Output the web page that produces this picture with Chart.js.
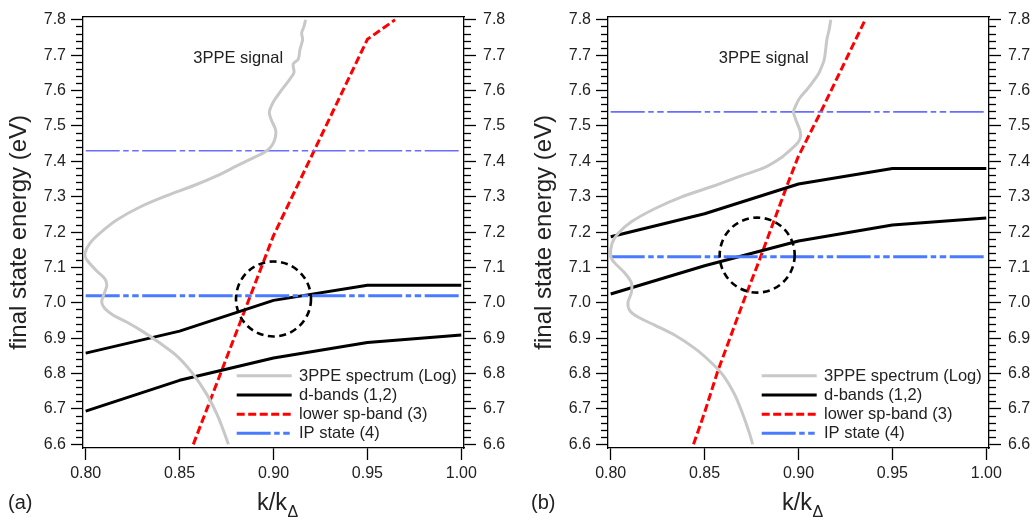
<!DOCTYPE html>
<html><head><meta charset="utf-8">
<script src="https://cdn.jsdelivr.net/npm/chart.js@4.4.1/dist/chart.umd.min.js"></script>
<style>
html,body{margin:0;padding:0;background:#fff;}
#wrap{position:relative;width:1034px;height:520px;overflow:hidden;background:#fff;}
canvas{position:absolute;top:0;}
</style></head><body>
<div id="wrap">
<canvas id="ca" width="509" height="520" style="left:0px"></canvas>
<canvas id="cb" width="509" height="520" style="left:525px"></canvas>
</div>
<script>
// ---------- shared axis ticks ----------
const xTicks = [0.80, 0.85, 0.90, 0.95, 1.00];
const yTicks = [6.6, 6.7, 6.8, 6.9, 7.0, 7.1, 7.2, 7.3, 7.4, 7.5, 7.6, 7.7, 7.8];
const legendLabels = ['3PPE spectrum (Log)', 'd-bands (1,2)', 'lower sp-band (3)', 'IP state (4)'];
const yTitle = 'final state energy (eV)';
const xTitleMain = 'k/k';
const xTitleSub = '\u0394';
const signalLabel = '3PPE signal';
const panelLabels = ['(a)', '(b)'];

// ---------- panel (a) ----------
const aSpecY = [7.800,7.781,7.763,7.744,7.716,7.689,7.675,7.651,7.633,7.614,7.596,7.568,7.540,7.522,7.494,7.480,7.456,7.438,7.424,7.410,7.387,7.359,7.331,7.303,7.271,7.234,7.197,7.169,7.140,7.122,7.090,7.067,7.048,7.020,7.002,6.983,6.965,6.946,6.918,6.890,6.850,6.798,6.742,6.686,6.640,6.600];
const aSpecX = [0.9171,0.9162,0.9150,0.9155,0.9141,0.9132,0.9105,0.9109,0.9088,0.9061,0.9035,0.8999,0.8978,0.8985,0.9008,0.9013,0.9003,0.8981,0.8946,0.8892,0.8804,0.8698,0.8573,0.8431,0.8289,0.8165,0.8076,0.8023,0.7996,0.8005,0.8059,0.8103,0.8112,0.8094,0.8085,0.8103,0.8147,0.8218,0.8307,0.8385,0.8485,0.8573,0.8644,0.8698,0.8733,0.8760];
const aBandX  = [0.80, 0.85, 0.90, 0.95, 1.00];
const aBand1Y = [6.858, 6.920, 7.007, 7.050, 7.050];
const aBand2Y = [6.694, 6.781, 6.844, 6.888, 6.909];
const aSpX = [0.8573, 0.900, 0.950, 0.9647];
const aSpY = [6.600, 7.190, 7.745, 7.800];
const aIpX = [0.80, 1.00];
const aIpLowY  = [7.02, 7.02];
const aIpHighY = [7.43, 7.43];
const aCircle = [0.900, 7.011];
const aLabelAt = [0.8812, 7.69];

// ---------- panel (b) ----------
const bSpecY = [7.800,7.772,7.744,7.688,7.651,7.637,7.605,7.577,7.558,7.540,7.517,7.485,7.466,7.452,7.434,7.410,7.382,7.359,7.331,7.299,7.266,7.229,7.196,7.168,7.131,7.113,7.085,7.057,7.029,7.001,6.979,6.960,6.937,6.909,6.872,6.835,6.798,6.742,6.686,6.631,6.600];
const bSpecX = [0.9172,0.9163,0.9151,0.9137,0.9110,0.9093,0.9048,0.9004,0.8986,0.8973,0.8986,0.9009,0.9009,0.8995,0.8960,0.8907,0.8818,0.8694,0.8552,0.8375,0.8234,0.8110,0.8039,0.8007,0.8000,0.8021,0.8074,0.8110,0.8110,0.8092,0.8101,0.8145,0.8234,0.8340,0.8446,0.8528,0.8595,0.8659,0.8703,0.8739,0.8756];
const bBandX  = [0.80, 0.85, 0.90, 0.95, 1.00];
const bBand1Y = [7.187, 7.252, 7.336, 7.380, 7.380];
const bBand2Y = [7.025, 7.105, 7.175, 7.220, 7.240];
const bSpX = [0.8441, 0.8500, 0.8570, 0.8712, 0.8790, 0.8942, 0.9000, 0.9119, 0.9355];
const bSpY = [6.600, 6.690, 6.807, 7.011, 7.118, 7.336, 7.415, 7.540, 7.800];
const bIpX = [0.80, 1.00];
const bIpLowY  = [7.13, 7.13];
const bIpHighY = [7.54, 7.54];
const bCircle = [0.878, 7.135];
const bLabelAt = [0.8815, 7.69];

// ---------- styling / layout ----------
const FONT = "'Liberation Sans', Arial, Helvetica, sans-serif";
const TXT = '#222';
const XMIN = 0.80 - 2.7/1878, XMAX = 1.00 + 2.7/1878;
const YMIN = 6.6 - 3.7/359.2, YMAX = 7.8 + 3.3/359.2;
const IPDASH = [34, 3.5, 5.5, 3.5, 6.5, 3.5];

function pts(xs, ys) { return xs.map((x, i) => ({x: x, y: ys[i]})); }
function minorOf(major) {
  const out = [];
  for (let i = 0; i < major.length - 1; i++)
    for (let k = 1; k < 5; k++) out.push(+(major[i] + k * (major[i+1] - major[i]) / 5).toFixed(4));
  return out;
}
const yMinorTicks = minorOf(yTicks);

function yAxis(pos, weight, width, ticksArr, len, labels, title) {
  return {
    type: 'linear', axis: 'y', position: pos, weight: weight, min: YMIN, max: YMAX,
    afterBuildTicks: s => { s.ticks = ticksArr.map(v => ({value: v})); },
    afterFit: s => { s.width = width; },
    ticks: { display: labels, font: {family: FONT, size: 16}, color: TXT, padding: pos === 'left' ? 5 : 7,
             callback: v => Number(v).toFixed(1) },
    grid: { drawOnChartArea: false, drawTicks: true, tickLength: len, tickWidth: 1.3, tickColor: '#000' },
    border: { display: labels, color: '#000', width: 1.3 },
    title: title ? { display: true, text: title, color: TXT, font: {family: FONT, size: 24}, padding: {top: 5, bottom: 0} } : {display: false}
  };
}

const overlay = {
  id: 'overlay',
  afterDatasetsDraw(chart, args, o) {
    const ctx = chart.ctx, xs = chart.scales.x, ys = chart.scales.y, ca = chart.chartArea;
    ctx.save();
    // dashed circle
    ctx.beginPath();
    ctx.setLineDash([7, 4.5]);
    ctx.lineWidth = 2.6;
    ctx.strokeStyle = '#000';
    ctx.arc(xs.getPixelForValue(o.circle[0]), ys.getPixelForValue(o.circle[1]), 37.5, 0, Math.PI * 2);
    ctx.stroke();
    ctx.setLineDash([]);
    // 3PPE signal label
    ctx.fillStyle = TXT;
    ctx.font = '16.5px ' + FONT;
    ctx.textAlign = 'center';
    ctx.textBaseline = 'middle';
    ctx.fillText(signalLabel, xs.getPixelForValue(o.label[0]), ys.getPixelForValue(o.label[1]));
    // legend
    const ds = chart.data.datasets;
    const items = [0, 3, 5, 2];
    const rows = [72.3, 53, 33.7, 14.7];
    items.forEach((di, i) => {
      const d = ds[di];
      const y = ca.bottom - rows[i];
      const x0 = ca.left + 153.7, x1 = ca.left + 208.7;
      ctx.beginPath();
      ctx.setLineDash(d.borderDash || []);
      ctx.lineWidth = d.borderWidth;
      ctx.strokeStyle = d.borderColor;
      ctx.moveTo(x0, y); ctx.lineTo(x1, y);
      ctx.stroke();
      ctx.setLineDash([]);
      ctx.fillStyle = TXT;
      ctx.font = '16.5px ' + FONT;
      ctx.textAlign = 'left';
      ctx.fillText(legendLabels[i], ca.left + 216, y + 0.5);
    });
    ctx.restore();
  },
  afterDraw(chart, args, o) {
    const ctx = chart.ctx, ca = chart.chartArea;
    ctx.save();
    ctx.fillStyle = TXT;
    ctx.textAlign = 'left';
    ctx.textBaseline = 'alphabetic';
    ctx.font = '23.5px ' + FONT;
    const x0 = ca.left + 174;
    ctx.fillText(xTitleMain, x0, 510);
    const w = ctx.measureText(xTitleMain).width;
    ctx.font = '16px ' + FONT;
    ctx.fillText(xTitleSub, x0 + w + 0.5, 516.5);
    ctx.font = '20px ' + FONT;
    ctx.fillText(o.panel, o.panelX, 509);
    ctx.restore();
  }
};

function makePanel(id, p) {
  const datasets = [
    { data: pts(p.specX, p.specY), borderColor: '#c8c8c8', borderWidth: 3, tension: 0.3 },
    { data: pts(p.ipX, p.ipHighY), borderColor: '#6a6cff', borderWidth: 1.7, borderDash: IPDASH },
    { data: pts(p.ipX, p.ipLowY), borderColor: '#4a7bff', borderWidth: 3, borderDash: IPDASH },
    { data: pts(p.bandX, p.band1Y), borderColor: '#000', borderWidth: 3 },
    { data: pts(p.bandX, p.band2Y), borderColor: '#000', borderWidth: 3 },
    { data: pts(p.spX, p.spY), borderColor: '#ff0000', borderWidth: 3, borderDash: [8, 3.5] }
  ].map(d => Object.assign({ showLine: true, pointRadius: 0, pointHoverRadius: 0, fill: false, tension: 0,
                              borderJoinStyle: 'round', xAxisID: 'x', yAxisID: 'y' }, d));
  new Chart(document.getElementById(id), {
    type: 'scatter',
    data: { datasets: datasets },
    options: {
      responsive: false, animation: false, devicePixelRatio: 1,
      layout: { padding: { top: 10, left: 0, right: 0, bottom: 0 } },
      events: [],
      plugins: { legend: { display: false }, tooltip: { enabled: false },
                 overlay: { circle: p.circle, label: p.label, panel: p.panel, panelX: p.panelX } },
      scales: {
        x: { type: 'linear', axis: 'x', position: 'bottom', min: XMIN, max: XMAX,
             afterBuildTicks: s => { s.ticks = xTicks.map(v => ({value: v})); },
             afterFit: s => { s.height = 72; },
             ticks: { font: {family: FONT, size: 16}, color: TXT, padding: 4, maxRotation: 0, autoSkip: false,
                      callback: v => Number(v).toFixed(2) },
             grid: { drawOnChartArea: false, drawTicks: true, tickLength: 12, tickWidth: 1.3, tickColor: '#000' },
             border: { display: true, color: '#000', width: 1.3 } },
        xTop: { type: 'linear', axis: 'x', position: 'top', min: XMIN, max: XMAX,
                afterFit: s => { s.height = 0; },
                ticks: { display: false }, grid: { drawOnChartArea: false, drawTicks: false },
                border: { display: true, color: '#000', width: 1.3 } },
        y: yAxis('left', 1, 83, yTicks, 12, true, yTitle),
        yMinor: yAxis('left', 0, 0, yMinorTicks, 7, false, null),
        yR: yAxis('right', 1, 45, yTicks, 12, true, null),
        yRMinor: yAxis('right', 0, 0, yMinorTicks, 7, false, null)
      }
    },
    plugins: [overlay]
  });
}

makePanel('ca', { specX: aSpecX, specY: aSpecY, bandX: aBandX, band1Y: aBand1Y, band2Y: aBand2Y,
                  spX: aSpX, spY: aSpY, ipX: aIpX, ipLowY: aIpLowY, ipHighY: aIpHighY,
                  circle: aCircle, label: aLabelAt, panel: panelLabels[0], panelX: 8 });
makePanel('cb', { specX: bSpecX, specY: bSpecY, bandX: bBandX, band1Y: bBand1Y, band2Y: bBand2Y,
                  spX: bSpX, spY: bSpY, ipX: bIpX, ipLowY: bIpLowY, ipHighY: bIpHighY,
                  circle: bCircle, label: bLabelAt, panel: panelLabels[1], panelX: 6 });
</script>
</body></html>
